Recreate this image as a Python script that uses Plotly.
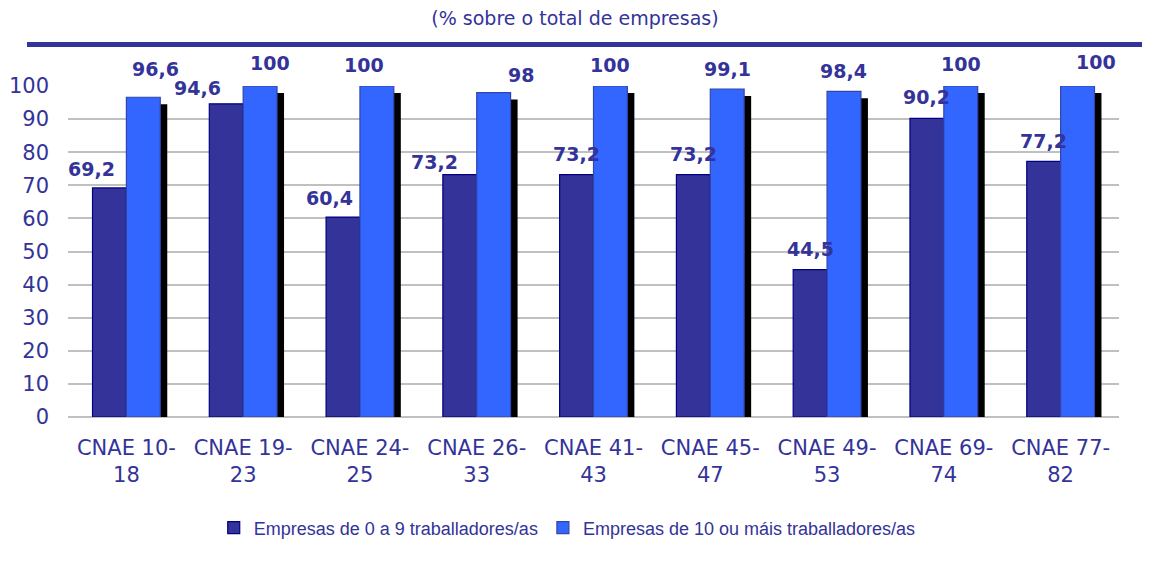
import plotly.graph_objects as go

# datos (% sobre o total de empresas)
categorias = ["CNAE 10-18", "CNAE 19-23", "CNAE 24-25", "CNAE 26-33", "CNAE 41-43",
              "CNAE 45-47", "CNAE 49-53", "CNAE 69-74", "CNAE 77-82"]
peque = [69.2, 94.6, 60.4, 73.2, 73.2, 73.2, 44.5, 90.2, 77.2]
grandes = [96.6, 100, 100, 98, 100, 99.1, 98.4, 100, 100]
serie_peque = "Empresas de 0 a 9 traballadores/as"
serie_grandes = "Empresas de 10 ou máis traballadores/as"

AZUL_OSC = "#333399"
AZUL = "#3366FF"
W = 0.29      # ancho de cada barra (en unidades de categoría)
SOMBRA_X = 0.06

# desprazamentos das etiquetas (px), como no orixinal
dx_peque = [-18, -29, -14, -25, 0, 0, 0, 0, 0]
dy_peque = [19, 16, 19, 13, 21, 21, 21, 21, 20]
dx_grandes = [12, 10, -13, 27, 0, 0, 0, 0, 18]
dy_grandes = [28, 23, 21, 18, 21, 20, 20, 22, 24]

xs = list(range(len(categorias)))
ticktext = [c.replace("-", "-<br>") for c in categorias]

fig = go.Figure()

# sombras negras
for vals, off in [(peque, -W), (grandes, 0)]:
    fig.add_trace(go.Bar(
        x=xs, y=[v - 0.9 for v in vals], base=-1.2, width=W, offset=off + SOMBRA_X,
        marker=dict(color="black", line=dict(width=0)),
        showlegend=False, hoverinfo="skip", cliponaxis=False,
    ))

fig.add_trace(go.Bar(
    x=xs, y=peque, name=serie_peque, width=W, offset=-W,
    marker=dict(color=AZUL_OSC, line=dict(color="#000080", width=1.2)),
))
fig.add_trace(go.Bar(
    x=xs, y=grandes, name=serie_grandes, width=W, offset=0,
    marker=dict(color=AZUL, line=dict(color="#3344AA", width=1.2)),
))

fnt_lbl = dict(family="DejaVu Sans", size=19, color=AZUL_OSC, weight="bold")
for i, v in enumerate(peque):
    fig.add_annotation(x=i - W / 2, y=v, text=str(v).replace(".", ","), showarrow=False,
                       xshift=dx_peque[i], yshift=dy_peque[i], font=fnt_lbl)
for i, v in enumerate(grandes):
    txt = ("%g" % v).replace(".", ",")
    fig.add_annotation(x=i + W / 2, y=v, text=txt, showarrow=False,
                       xshift=dx_grandes[i], yshift=dy_grandes[i], font=fnt_lbl)

# liña horizontal baixo o título
fig.add_shape(type="line", xref="paper", yref="paper", x0=-0.039, x1=1.04,
              y0=1.1254, y1=1.1254, line=dict(color=AZUL_OSC, width=5))

# a páxina ten 8 px de marxe no body: compénsase aquí
fig.update_layout(
    width=1142, height=553,
    margin=dict(l=60, r=31, t=78, b=144, autoexpand=False),
    paper_bgcolor="white", plot_bgcolor="white",
    barmode="overlay",
    title=dict(text="(% sobre o total de empresas)", x=(575 - 8) / 1142, xref="container",
               y=1 - 10 / 553, yanchor="middle", yref="container",
               font=dict(family="DejaVu Sans", size=19, color=AZUL_OSC)),
    xaxis=dict(tickvals=xs, ticktext=ticktext, range=[-0.5, len(xs) - 0.5],
               showgrid=False, zeroline=False, showline=False, ticklabelstandoff=16,
               automargin=False,
               tickfont=dict(family="DejaVu Sans", size=21, color=AZUL_OSC)),
    yaxis=dict(range=[0, 100], dtick=10, showgrid=True, gridcolor="#C0C0C0", gridwidth=2,
               zeroline=True, zerolinecolor="#C0C0C0", zerolinewidth=2, showline=False,
               ticklabelstandoff=18, automargin=False,
               tickfont=dict(family="DejaVu Sans", size=21, color=AZUL_OSC)),
    legend=dict(orientation="h", x=0.475, xanchor="center", y=-0.335, yanchor="middle",
                font=dict(family="Liberation Sans", size=18, color=AZUL_OSC),
                itemwidth=30, tracegroupgap=0),
    showlegend=True,
)

fig.write_html("out.html")
